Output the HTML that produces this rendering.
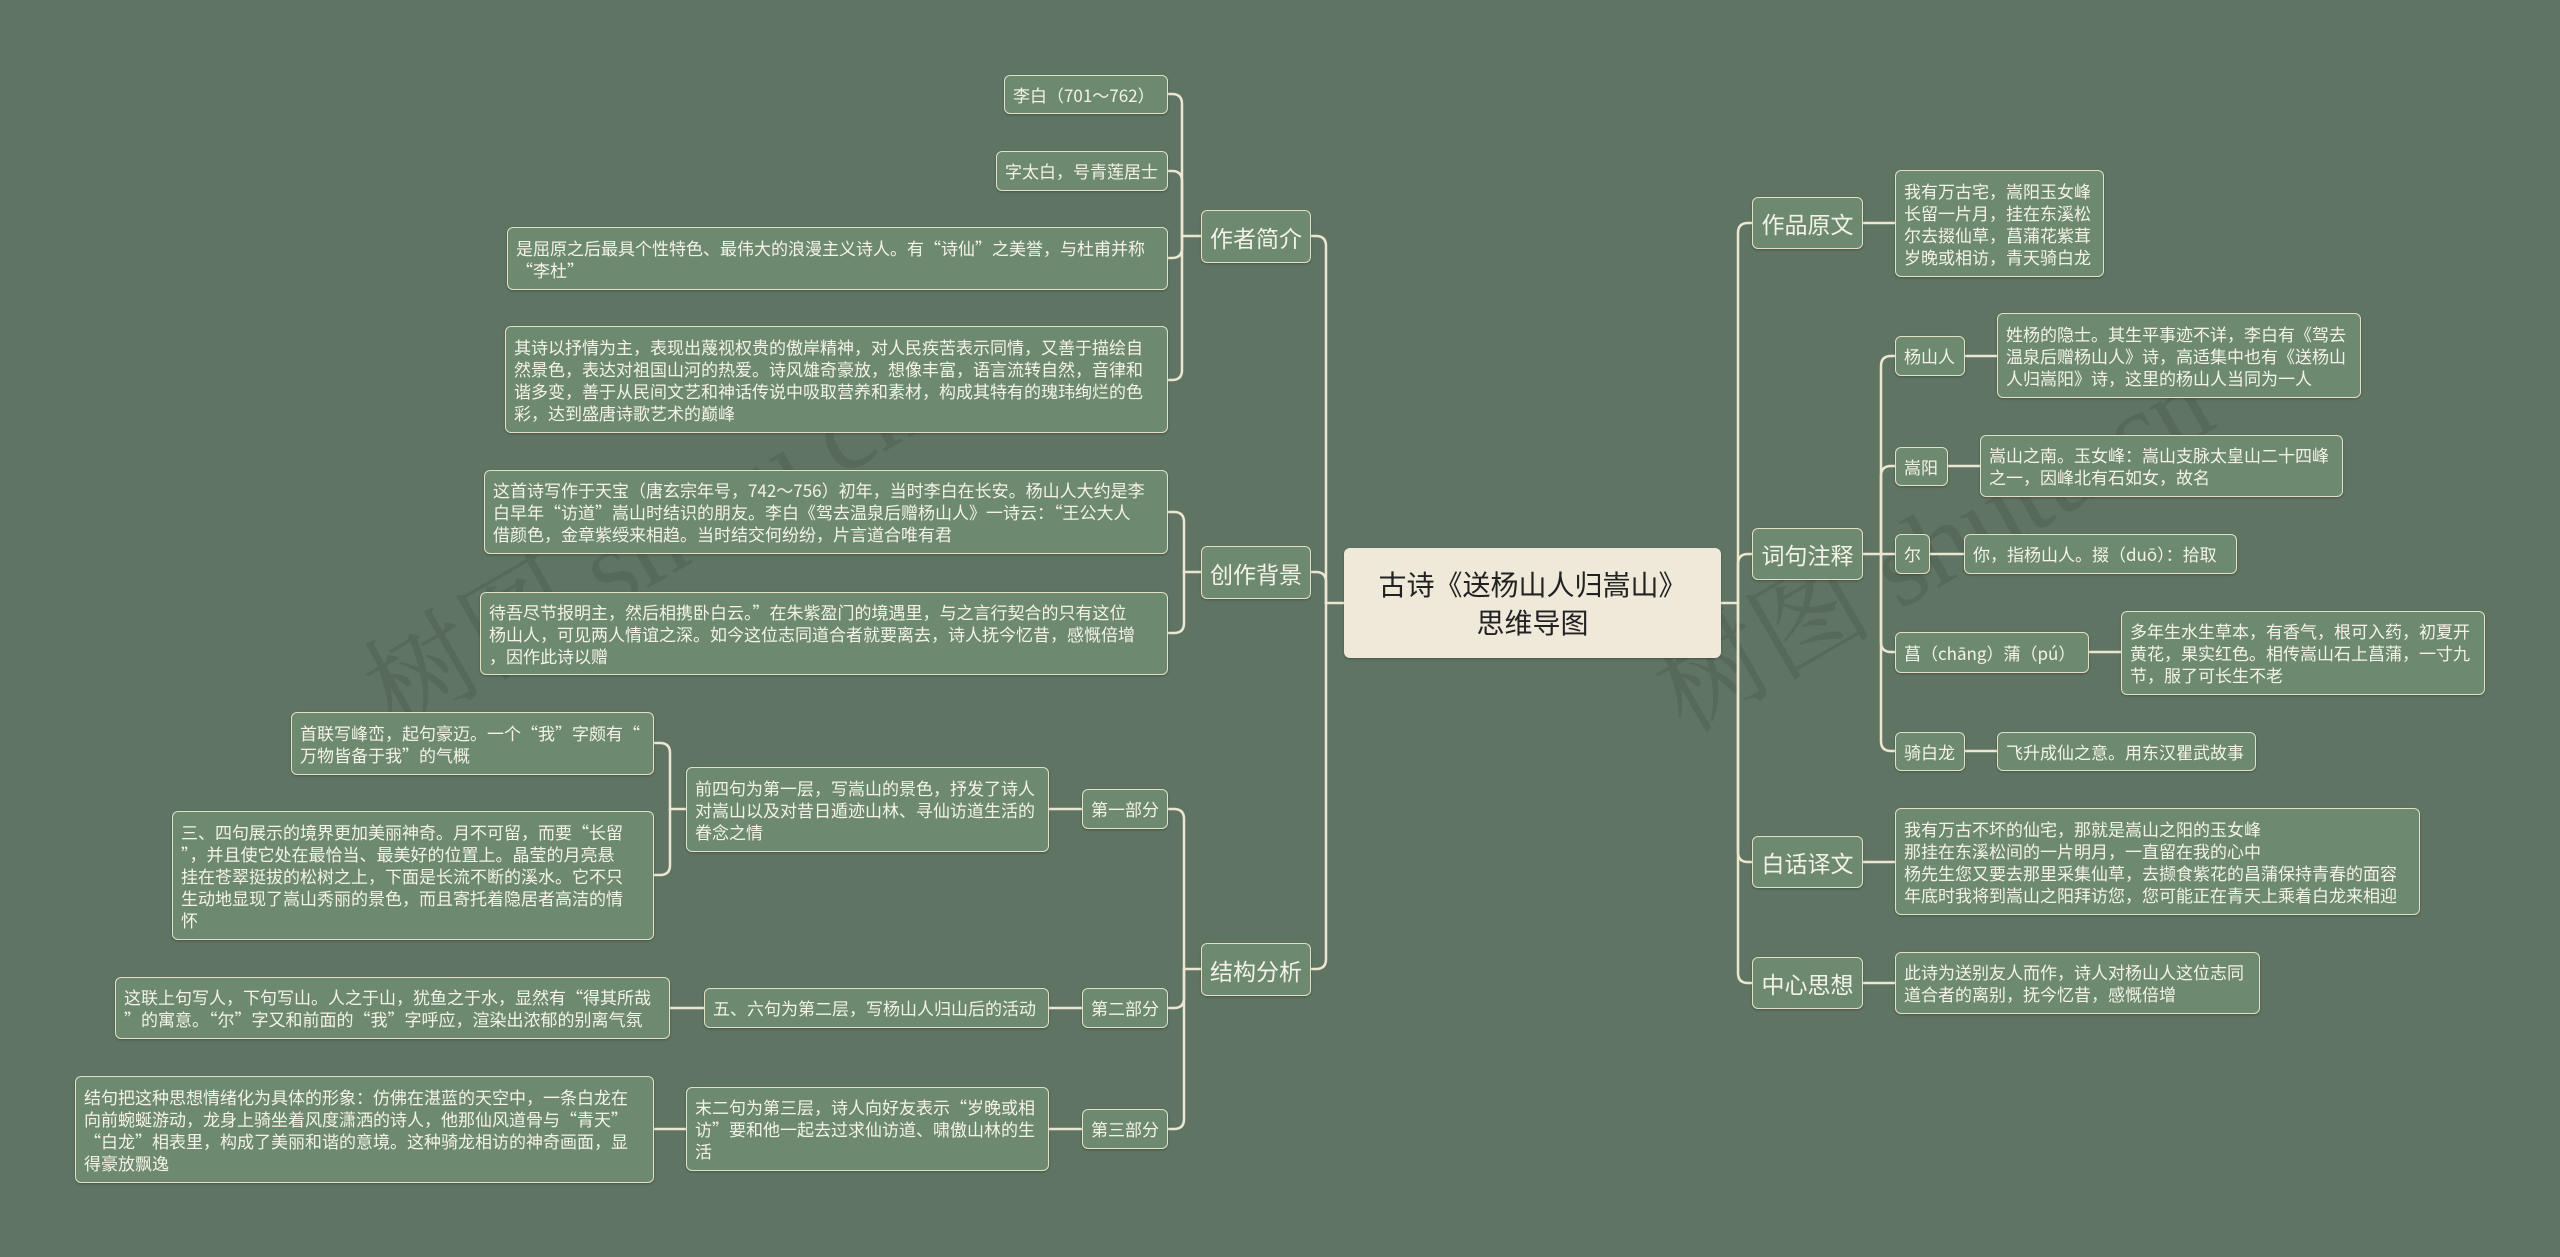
<!DOCTYPE html>
<html><head><meta charset="utf-8"><style>
html,body{margin:0;padding:0}
body{width:2560px;height:1257px;background:#5f7462;position:relative;overflow:hidden;font-family:"Noto Sans CJK SC","Liberation Sans",sans-serif}
.n{position:absolute;box-sizing:border-box;border:1.5px solid #e4e0c8;border-radius:6px;background:#6d8a70;color:#f4f2e8;font-size:17px;line-height:22px;padding:0 8px;display:flex;align-items:center;white-space:nowrap;box-shadow:0 1px 2px rgba(0,0,0,.25)}
.m{font-size:23px;justify-content:center;padding:0}
.c{background:#efe9da;color:#222;border:none;font-size:28px;line-height:38px;justify-content:center;text-align:center}
svg{position:absolute;left:0;top:0}
.wm{position:absolute;font-size:110px;color:rgba(70,80,70,.3);transform:rotate(-30deg);font-family:"Liberation Serif","Noto Serif CJK SC",serif;white-space:nowrap}
</style></head><body>
<div class="wm" style="left:330px;top:460px">树图 shutu.cn</div>
<div class="wm" style="left:1620px;top:460px">树图 shutu.cn</div>
<svg width="2560" height="1257" fill="none" stroke="#ece7d2" stroke-width="2.5" stroke-linecap="round">
<path d="M1344 603H1326"/>
<path d="M1326 603V246Q1326 236 1316 236H1311"/>
<path d="M1326 603V582Q1326 572 1316 572H1311"/>
<path d="M1326 603V959Q1326 969 1316 969H1311"/>
<path d="M1201 236H1182"/>
<path d="M1182 236V104Q1182 94 1172 94H1168"/>
<path d="M1182 236V181Q1182 171 1172 171H1168"/>
<path d="M1182 236V248Q1182 258 1172 258H1168"/>
<path d="M1182 236V370Q1182 380 1172 380H1168"/>
<path d="M1201 572H1184"/>
<path d="M1184 572V522Q1184 512 1174 512H1168"/>
<path d="M1184 572V623Q1184 633 1174 633H1168"/>
<path d="M1201 969H1184"/>
<path d="M1184 969V819Q1184 809 1174 809H1168"/>
<path d="M1184 969V998Q1184 1008 1174 1008H1168"/>
<path d="M1184 969V1119Q1184 1129 1174 1129H1168"/>
<path d="M1082 809H1049"/>
<path d="M686 809H670"/>
<path d="M670 809V753Q670 743 660 743H654"/>
<path d="M670 809V865Q670 875 660 875H654"/>
<path d="M1082 1008H1049"/>
<path d="M704 1008H670"/>
<path d="M1082 1129H1049"/>
<path d="M686 1129H654"/>
<path d="M1720 603H1738"/>
<path d="M1738 603V233Q1738 223 1748 223H1752"/>
<path d="M1738 603V564Q1738 554 1748 554H1752"/>
<path d="M1738 603V852Q1738 862 1748 862H1752"/>
<path d="M1738 603V973Q1738 983 1748 983H1752"/>
<path d="M1863 223H1895"/>
<path d="M1863 554H1881"/>
<path d="M1881 554V366Q1881 356 1891 356H1895"/>
<path d="M1881 554V476Q1881 466 1891 466H1895"/>
<path d="M1881 554H1895"/>
<path d="M1881 554V642Q1881 652 1891 652H1895"/>
<path d="M1881 554V741Q1881 751 1891 751H1895"/>
<path d="M1965 356H1997"/><path d="M1948 466H1980"/><path d="M1930 554H1964"/><path d="M2089 652H2121"/><path d="M1965 751H1997"/>
<path d="M1863 862H1895"/><path d="M1863 983H1895"/>
</svg>

<div class="n c" style="left:1344px;top:548px;width:377px;height:110px">古诗《送杨山人归嵩山》<br>思维导图</div>

<div class="n m" style="left:1201px;top:210px;width:110px;height:53px">作者简介</div>
<div class="n m" style="left:1201px;top:546px;width:110px;height:53px">创作背景</div>
<div class="n m" style="left:1201px;top:943px;width:110px;height:53px">结构分析</div>

<div class="n" style="left:1004px;top:75px;width:164px;height:39px">李白（701～762）</div>
<div class="n" style="left:996px;top:151px;width:172px;height:40px">字太白，号青莲居士</div>
<div class="n" style="left:507px;top:227px;width:661px;height:63px">是屈原之后最具个性特色、最伟大的浪漫主义诗人。有“诗仙”之美誉，与杜甫并称<br>“李杜”</div>
<div class="n" style="left:505px;top:326px;width:663px;height:107px">其诗以抒情为主，表现出蔑视权贵的傲岸精神，对人民疾苦表示同情，又善于描绘自<br>然景色，表达对祖国山河的热爱。诗风雄奇豪放，想像丰富，语言流转自然，音律和<br>谐多变，善于从民间文艺和神话传说中吸取营养和素材，构成其特有的瑰玮绚烂的色<br>彩，达到盛唐诗歌艺术的巅峰</div>
<div class="n" style="left:484px;top:470px;width:684px;height:84px">这首诗写作于天宝（唐玄宗年号，742～756）初年，当时李白在长安。杨山人大约是李<br>白早年“访道”嵩山时结识的朋友。李白《驾去温泉后赠杨山人》一诗云：“王公大人<br>借颜色，金章紫绶来相趋。当时结交何纷纷，片言道合唯有君</div>
<div class="n" style="left:480px;top:592px;width:688px;height:83px">待吾尽节报明主，然后相携卧白云。”在朱紫盈门的境遇里，与之言行契合的只有这位<br>杨山人，可见两人情谊之深。如今这位志同道合者就要离去，诗人抚今忆昔，感慨倍增<br>，因作此诗以赠</div>

<div class="n" style="left:1082px;top:789px;width:86px;height:40px;justify-content:center;padding:0">第一部分</div>
<div class="n" style="left:1082px;top:988px;width:86px;height:40px;justify-content:center;padding:0">第二部分</div>
<div class="n" style="left:1082px;top:1109px;width:86px;height:40px;justify-content:center;padding:0">第三部分</div>
<div class="n" style="left:686px;top:767px;width:363px;height:85px">前四句为第一层，写嵩山的景色，抒发了诗人<br>对嵩山以及对昔日遁迹山林、寻仙访道生活的<br>眷念之情</div>
<div class="n" style="left:704px;top:988px;width:345px;height:40px">五、六句为第二层，写杨山人归山后的活动</div>
<div class="n" style="left:686px;top:1087px;width:363px;height:84px">末二句为第三层，诗人向好友表示“岁晚或相<br>访”要和他一起去过求仙访道、啸傲山林的生<br>活</div>
<div class="n" style="left:291px;top:712px;width:363px;height:63px">首联写峰峦，起句豪迈。一个“我”字颇有“<br>万物皆备于我”的气概</div>
<div class="n" style="left:172px;top:811px;width:482px;height:129px">三、四句展示的境界更加美丽神奇。月不可留，而要“长留<br>”，并且使它处在最恰当、最美好的位置上。晶莹的月亮悬<br>挂在苍翠挺拔的松树之上，下面是长流不断的溪水。它不只<br>生动地显现了嵩山秀丽的景色，而且寄托着隐居者高洁的情<br>怀</div>
<div class="n" style="left:115px;top:977px;width:555px;height:62px">这联上句写人，下句写山。人之于山，犹鱼之于水，显然有“得其所哉<br>”的寓意。“尔”字又和前面的“我”字呼应，渲染出浓郁的别离气氛</div>
<div class="n" style="left:75px;top:1076px;width:579px;height:107px">结句把这种思想情绪化为具体的形象：仿佛在湛蓝的天空中，一条白龙在<br>向前蜿蜒游动，龙身上骑坐着风度潇洒的诗人，他那仙风道骨与“青天”<br>“白龙”相表里，构成了美丽和谐的意境。这种骑龙相访的神奇画面，显<br>得豪放飘逸</div>

<div class="n m" style="left:1752px;top:197px;width:111px;height:52px">作品原文</div>
<div class="n m" style="left:1752px;top:528px;width:111px;height:52px">词句注释</div>
<div class="n m" style="left:1752px;top:836px;width:111px;height:52px">白话译文</div>
<div class="n m" style="left:1752px;top:957px;width:111px;height:52px">中心思想</div>

<div class="n" style="left:1895px;top:170px;width:209px;height:107px">我有万古宅，嵩阳玉女峰<br>长留一片月，挂在东溪松<br>尔去掇仙草，菖蒲花紫茸<br>岁晚或相访，青天骑白龙</div>
<div class="n" style="left:1895px;top:336px;width:70px;height:40px">杨山人</div>
<div class="n" style="left:1997px;top:313px;width:364px;height:85px">姓杨的隐士。其生平事迹不详，李白有《驾去<br>温泉后赠杨山人》诗，高适集中也有《送杨山<br>人归嵩阳》诗，这里的杨山人当同为一人</div>
<div class="n" style="left:1895px;top:447px;width:53px;height:39px">嵩阳</div>
<div class="n" style="left:1980px;top:435px;width:363px;height:62px">嵩山之南。玉女峰：嵩山支脉太皇山二十四峰<br>之一，因峰北有石如女，故名</div>
<div class="n" style="left:1895px;top:534px;width:35px;height:40px">尔</div>
<div class="n" style="left:1964px;top:534px;width:273px;height:40px">你，指杨山人。掇（duō）：拾取</div>
<div class="n" style="left:1895px;top:632px;width:194px;height:41px">菖（chāng）蒲（pú）</div>
<div class="n" style="left:2121px;top:611px;width:364px;height:84px">多年生水生草本，有香气，根可入药，初夏开<br>黄花，果实红色。相传嵩山石上菖蒲，一寸九<br>节，服了可长生不老</div>
<div class="n" style="left:1895px;top:732px;width:70px;height:39px">骑白龙</div>
<div class="n" style="left:1997px;top:732px;width:259px;height:39px">飞升成仙之意。用东汉瞿武故事</div>
<div class="n" style="left:1895px;top:808px;width:525px;height:107px">我有万古不坏的仙宅，那就是嵩山之阳的玉女峰<br>那挂在东溪松间的一片明月，一直留在我的心中<br>杨先生您又要去那里采集仙草，去撷食紫花的昌蒲保持青春的面容<br>年底时我将到嵩山之阳拜访您，您可能正在青天上乘着白龙来相迎</div>
<div class="n" style="left:1895px;top:952px;width:365px;height:62px">此诗为送别友人而作，诗人对杨山人这位志同<br>道合者的离别，抚今忆昔，感慨倍增</div>
</body></html>
